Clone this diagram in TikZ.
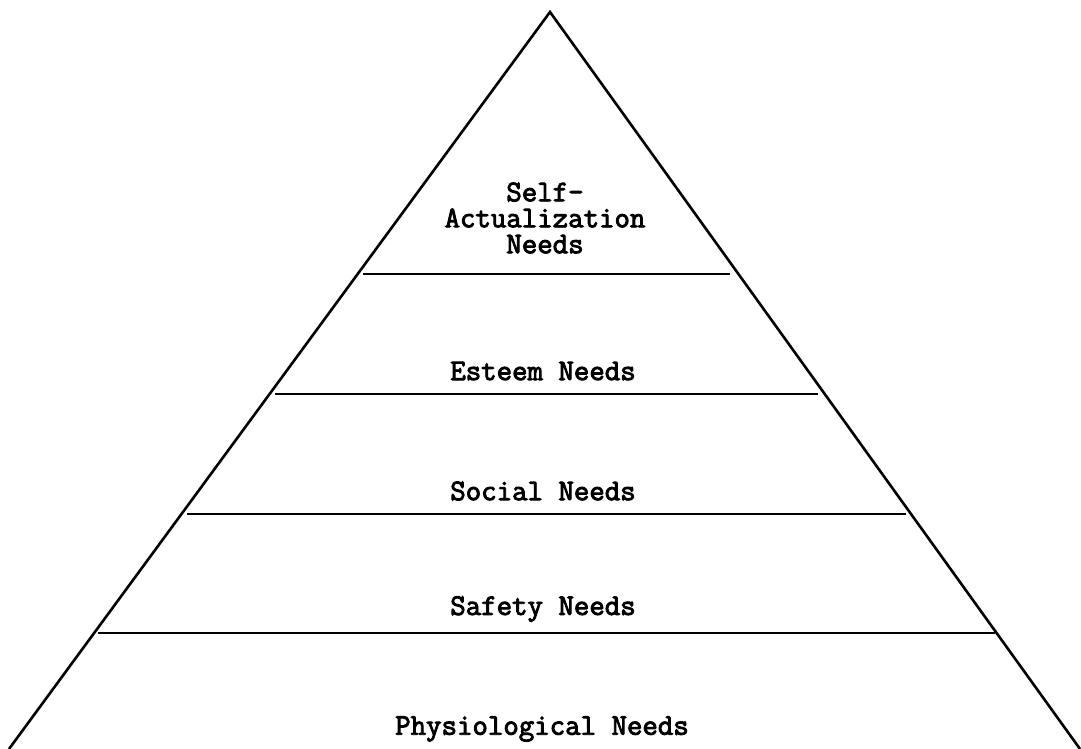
\documentclass[tikz,border=0pt]{standalone}
\usepackage{fontspec}
\setmonofont{Latin Modern Mono}[BoldFont={Latin Modern Mono}, BoldFeatures={FakeBold=3}]
\begin{document}
\begin{tikzpicture}[x=1pt,y=-1pt,
  edge/.style={line width=2.6pt},
  level/.style={font=\ttfamily\bfseries\fontsize{30}{26}\selectfont, align=center, inner sep=0pt}]
\useasboundingbox (0,0) rectangle (1081,749);
% outline of the pyramid
\coordinate (apex) at (550,12);
\coordinate (bl) at (9,749);
\coordinate (br) at (1080,749);
\draw[edge] (bl) -- (apex) -- (br);
% tier dividers
\draw[edge] (363,274) -- (730,274);
\draw[edge] (275,394) -- (818,394);
\draw[edge] (187,514) -- (906,514);
\draw[edge] (98,633) -- (995,633);
% tier labels
\node[level] (selfact) at (545,218) {Self-\\Actualization\\Needs};
\node[level] (esteem) at (543,371) {Esteem Needs};
\node[level] (social) at (543,491) {Social Needs};
\node[level] (safety) at (543,609) {Safety Needs};
\node[level] (physio) at (542,729) {Physiological Needs};
\end{tikzpicture}
\end{document}
